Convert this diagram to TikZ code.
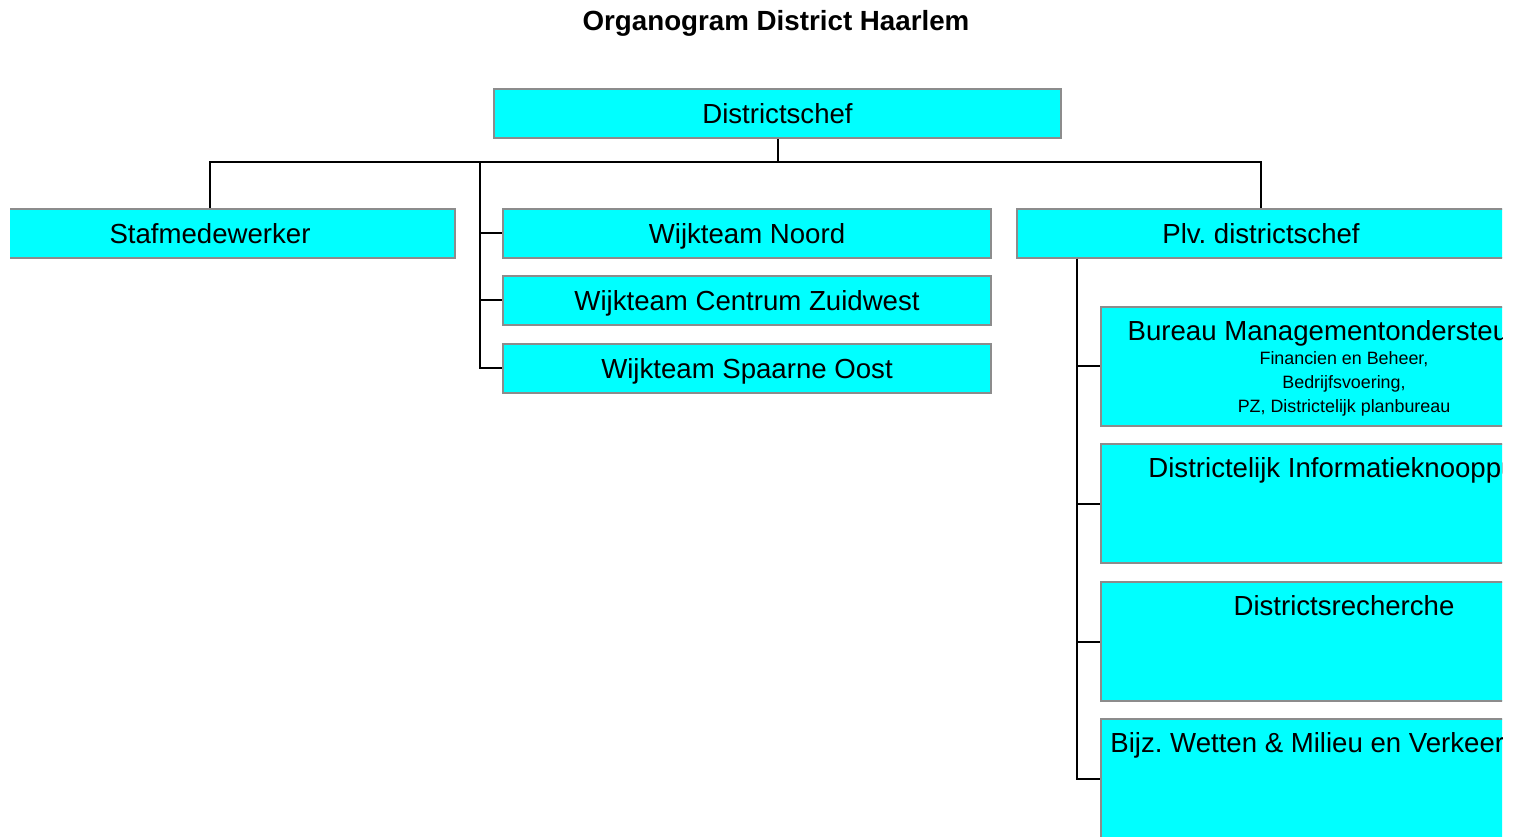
\documentclass[tikz,border=0pt]{standalone}
\usepackage{fontspec}
\setmainfont{Liberation Sans}
\usepackage{tikz}
\frenchspacing

\definecolor{boxcyan}{RGB}{0,255,255}
\definecolor{boxrand}{RGB}{140,140,140}
\newcommand{\subfont}{\fontsize{13.4pt}{18pt}\selectfont}

\tikzset{
	titel/.style={font=\fontsize{20.8pt}{24pt}\selectfont\bfseries},
	unit/.style={draw=boxrand, fill=boxcyan, line width=1.5pt, inner sep=0pt,
		font=\fontsize{20.7pt}{24pt}\selectfont, text height=14.8pt, text depth=0pt},
	unitbreed/.style={unit, minimum width=366pt, minimum height=36.75pt},
	unithoog/.style={unit, minimum width=364.5pt, minimum height=89.25pt},
	kop/.style={anchor=north, yshift=-7pt, align=center, font=\fontsize{20.7pt}{18pt}\selectfont},
	lijn/.style={line width=1.5pt, black}
}

\begin{document}
\begin{tikzpicture}[x=0.75pt,y=-0.75pt]

	\useasboundingbox (0,0) rectangle (1516,837);
	\node[titel] (titel) at (776,23) {Organogram District Haarlem};

	\begin{scope}
		\clip (10,0) rectangle (1502,837);

		\node[unit, minimum width=425.25pt, minimum height=36.75pt] (dchef) at (777.5,113.5) {Districtschef};

		\node[unitbreed, minimum width=367.5pt] (staf) at (210,233.5) {Stafmedewerker};
		\node[unitbreed] (wnoord)   at (747,233.5) {Wijkteam Noord};
		\node[unitbreed] (wcentrum) at (747,300.5) {Wijkteam Centrum Zuidwest};
		\node[unitbreed] (wspaarne) at (747,368.5) {Wijkteam Spaarne Oost};
		\node[unitbreed] (plv)      at (1261,233.5) {Plv. districtschef};

		\node[unithoog, label={[kop]north:{Bureau Managementondersteuning\\\subfont Financien en Beheer,\\\subfont Bedrijfsvoering,\\\subfont PZ, Districtelijk planbureau}}] (bmo) at (1344,366.5) {};
		\node[unithoog, label={[kop]north:Districtelijk Informatieknooppunt}] (dik)   at (1344,503.5) {};
		\node[unithoog, label={[kop]north:Districtsrecherche}]                (drech) at (1344,641.5) {};
		\node[unithoog, label={[kop,anchor=north west,xshift=4.25pt]north west:Bijz. Wetten \& Milieu en Verkeer}] (bijz) at (1344,778.5) {};

		\coordinate (bus)  at (777.5,162);
		\coordinate (wbus) at (480,162);
		\coordinate (pbus) at ([xshift=45.75pt]plv.south west);

		\draw[lijn] (dchef.south) -- (bus);
		\draw[lijn] (staf.north) |- (bus) -| (plv.north);
		\foreach \w in {wnoord,wcentrum,wspaarne}
			\draw[lijn] (wbus) |- (\w.west);
		\foreach \b in {bmo,dik,drech,bijz}
			\draw[lijn] (pbus) |- (\b.west);
	\end{scope}

\end{tikzpicture}
\end{document}
